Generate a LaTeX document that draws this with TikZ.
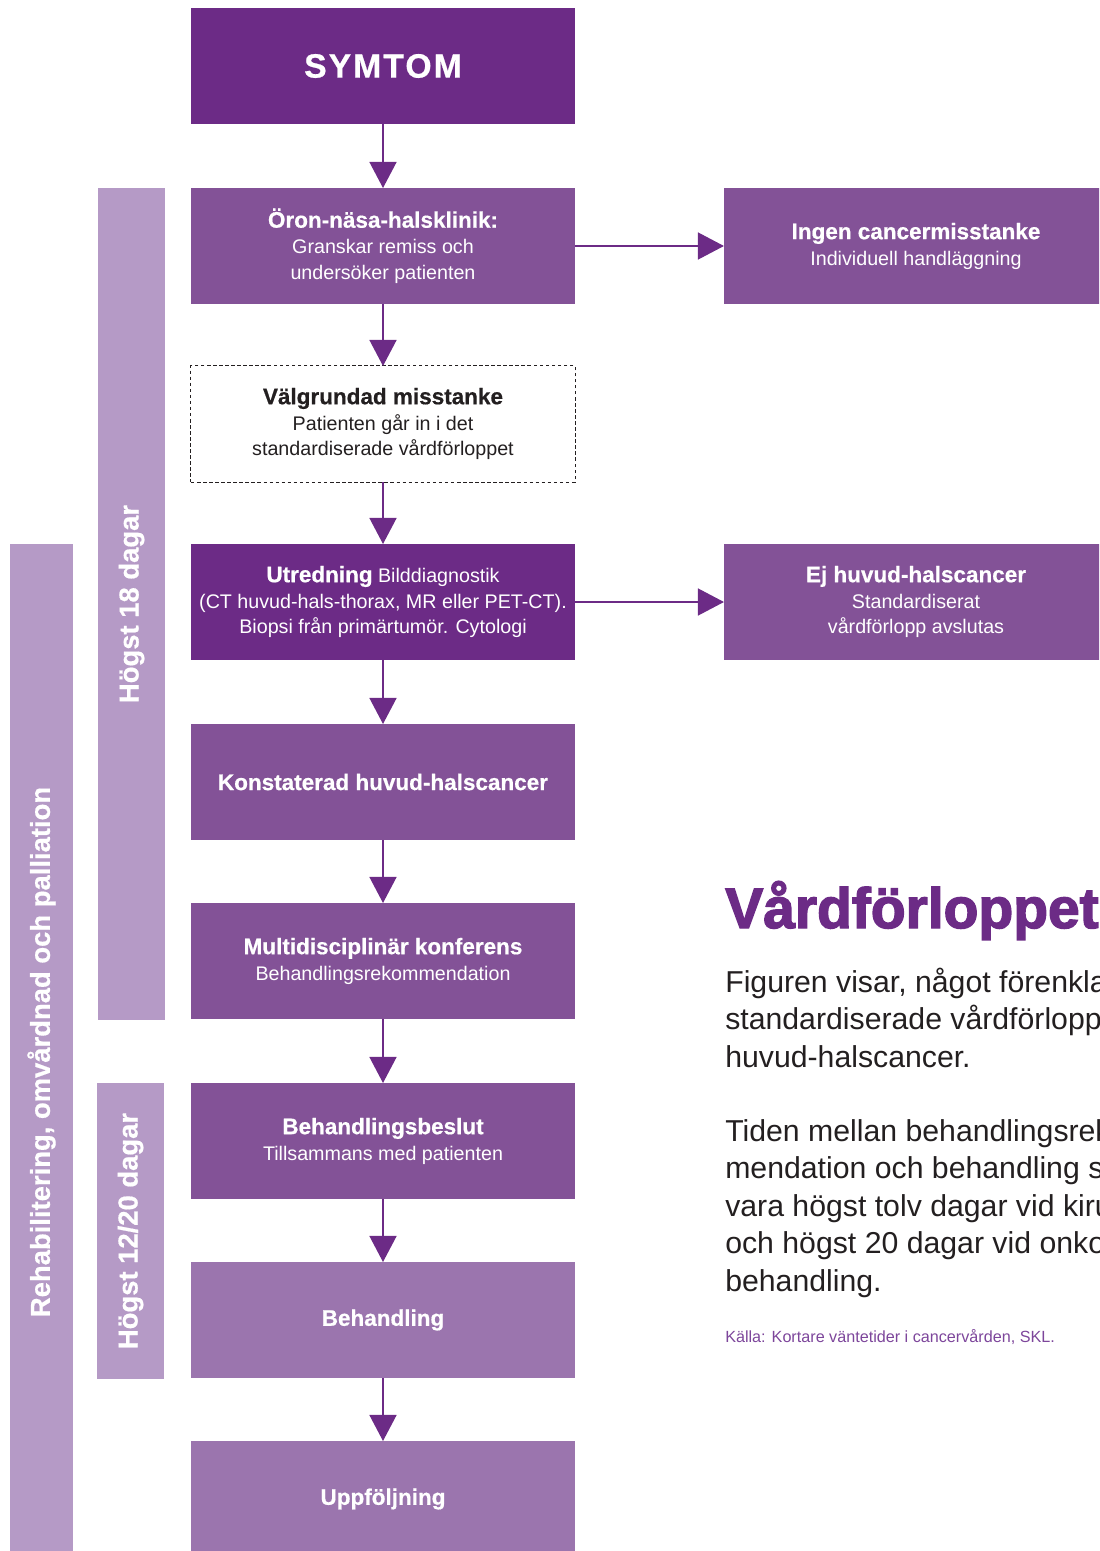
\documentclass[tikz,border=0pt]{standalone}
\usepackage{fontspec}
\setmainfont{Liberation Sans}
\newfontfamily\heavyfont{Liberation Sans}[FakeBold=0.6]
\newfontfamily\titlefont{Liberation Sans}[FakeBold=2.5]
\usetikzlibrary{positioning, arrows.meta}
\definecolor{vpdark}{RGB}{108,43,134}
\definecolor{vpmid}{RGB}{131,82,151}
\definecolor{vplight}{RGB}{155,117,174}
\definecolor{vpbar}{RGB}{181,154,198}
\definecolor{vptext}{RGB}{35,31,32}
\definecolor{vpsource}{RGB}{125,70,155}
\newcommand{\boxhead}[1]{{\heavyfont\bfseries\fontsize{16}{18.4}\selectfont #1}}

\begin{document}
\begin{tikzpicture}[x=0.025cm, y=-0.025cm,
      box/.style={minimum width=9.6cm, minimum height=2.9cm, inner sep=0pt, outer sep=0pt, align=center, text=white, font=\fontsize{14}{18.4}\selectfont},
      boxdark/.style={box, fill=vpdark},
      boxmid/.style={box, fill=vpmid},
      boxlight/.style={box, fill=vplight},
      dashbox/.style={box, draw=vptext, line width=0.7pt, dash pattern=on 2.5pt off 1.8pt, text=vptext},
      bar/.style={fill=vpbar, rotate=90, inner sep=0pt, outer sep=0pt, text=white, font=\heavyfont\bfseries\fontsize{19.5}{23}\selectfont},
      arr/.style={-{Triangle[width=0.675cm, length=0.65cm]}, line width=1pt, vpdark}]
    \useasboundingbox (0,0) rectangle (1099,1551);
    \clip (0,0) rectangle (1099,1551);

    % side bars
    \node[bar, minimum width=20.8cm, minimum height=1.675cm] (dag18) at (131.5,604) {Högst 18 dagar};
    \node[bar, minimum width=7.4cm, minimum height=1.675cm] (dag1220) at (130.5,1231) {Högst 12/20 dagar};
    \node[bar, minimum width=25.4cm, minimum height=1.575cm] (rehab) at (41.5,1052) {Rehabilitering, omvårdnad och palliation};

    % main flow
    \node[boxdark, font=\heavyfont\bfseries\fontsize{24}{28}\selectfont] (symtom) at (383,66) {\addfontfeature{LetterSpace=6}SYMTOM};
    \node[boxmid] (oron) at (383,246) {\boxhead{Öron-näsa-halsklinik:}\\Granskar remiss och\\undersöker patienten};
    \node[dashbox] (valgr) at (383,424) {\boxhead{Välgrundad misstanke}\\Patienten går in i det\\standardiserade vårdförloppet};
    \node[boxdark] (utr) at (383,602) {\boxhead{Utredning} Bilddiagnostik\\(CT huvud-hals-thorax, MR eller PET-CT).\\Biopsi från primärtumör. Cytologi};
    \node[boxmid] (konst) at (383,782) {\boxhead{Konstaterad huvud-halscancer}};
    \node[boxmid] (multi) at (383,961) {\boxhead{Multidisciplinär konferens}\\Behandlingsrekommendation};
    \node[boxmid] (beslut) at (383,1141) {\boxhead{Behandlingsbeslut}\\Tillsammans med patienten};
    \node[boxlight] (behand) at (383,1320) {\boxhead{Behandling}};
    \node[boxlight] (uppf) at (383,1499) {\boxhead{Uppföljning}};

    % exits
    \node[boxmid] (ingen) at (916,246) {\boxhead{Ingen cancermisstanke}\\Individuell handläggning};
    \node[boxmid] (ej) at (916,602) {\boxhead{Ej huvud-halscancer}\\Standardiserat\\vårdförlopp avslutas};

    \draw[arr] (symtom)--(oron);
    \draw[arr] (oron)--(valgr);
    \draw[arr] (valgr)--(utr);
    \draw[arr] (utr)--(konst);
    \draw[arr] (konst)--(multi);
    \draw[arr] (multi)--(beslut);
    \draw[arr] (beslut)--(behand);
    \draw[arr] (behand)--(uppf);
    \draw[arr] (oron)--(ingen);
    \draw[arr] (utr)--(ej);

    % text column
    \node[anchor=base west, inner sep=0pt, text=vpdark, font=\titlefont\bfseries\fontsize{40.5}{44}\selectfont] (titel) at (725,928) {Vårdförloppet};
    \node[anchor=base west, inner sep=0pt, align=left, text=vptext, font=\fontsize{21.5}{26.6}\selectfont] (stycke1) at (725,1067) {Figuren visar, något förenkla\\standardiserade vårdförlopp\\huvud-halscancer.};
    \node[anchor=base west, inner sep=0pt, align=left, text=vptext, font=\fontsize{21.5}{26.6}\selectfont] (stycke2) at (725,1291) {Tiden mellan behandlingsrek\\mendation och behandling s\\vara högst tolv dagar vid kiru\\och högst 20 dagar vid onko\\behandling.};
    \node[anchor=base west, inner sep=0pt, text=vpsource, font=\fontsize{11.5}{14}\selectfont] (kalla) at (725,1342) {Källa: Kortare väntetider i cancervården, SKL.};
  \end{tikzpicture}
\end{document}
